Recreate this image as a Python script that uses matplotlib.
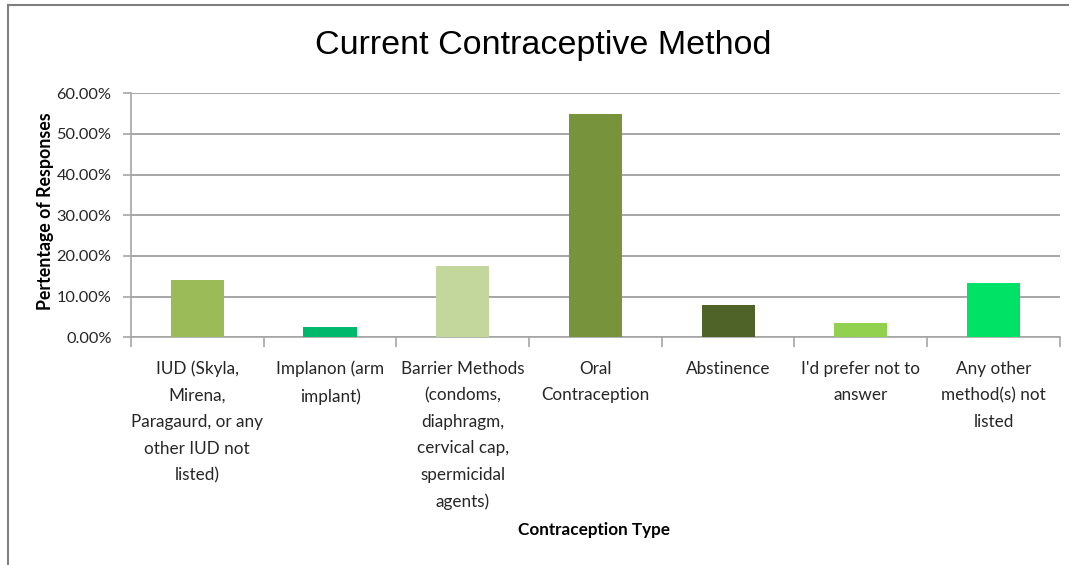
import matplotlib
matplotlib.use("Agg")
from matplotlib import pyplot as plt
from matplotlib.ticker import FixedLocator, PercentFormatter
import numpy as np

# categories and values
categories = [
    "IUD (Skyla,\nMirena,\nParagaurd, or any\nother IUD not\nlisted)",
    "Implanon (arm\nimplant)",
    "Barrier Methods\n(condoms,\ndiaphragm,\ncervical cap,\nspermicidal\nagents)",
    "Oral\nContraception",
    "Abstinence",
    "I'd prefer not to\nanswer",
    "Any other\nmethod(s) not\nlisted",
]
percentages = [14.1, 2.6, 17.6, 55.0, 8.0, 3.4, 13.3]
bar_colors = ["#9BBB59", "#00B86B", "#C3D69B", "#77933C", "#4F6228", "#92D050", "#00E266"]

label_font = ["Lato", "DejaVu Sans"]

fig = plt.figure(figsize=(10.69, 5.65), dpi=100)
ax = fig.add_axes([0.1225, 0.403, 0.869, 0.432])

x = np.arange(len(categories))
ax.bar(x, percentages, width=0.4, color=bar_colors, zorder=3)

ax.set_xlim(-0.5, len(categories) - 0.5)
ax.set_ylim(0, 60)
ax.set_yticks(np.arange(0, 61, 10))
ax.yaxis.set_major_formatter(PercentFormatter(decimals=2))
ax.grid(axis="y", color="#A6A6A6", linewidth=1.4, zorder=0)

# category labels centred, tick marks on the category boundaries
ax.set_xticks(x)
ax.set_xticklabels(categories, family=label_font, fontsize=12.3, color="#262626", linespacing=1.8, va="top")
ax.tick_params(axis="x", which="major", length=0, pad=17)
ax.xaxis.set_minor_locator(FixedLocator(np.arange(-0.5, len(categories), 1.0)))
ax.tick_params(axis="x", which="minor", length=7, color="#A6A6A6", width=1.2)
ax.tick_params(axis="y", length=6, color="#A6A6A6", width=1.2, pad=8)
for lbl in ax.get_yticklabels():
    lbl.set_family(label_font)
    lbl.set_fontsize(11.8)
    lbl.set_color("#262626")

for side in ["top", "right"]:
    ax.spines[side].set_visible(False)
for side in ["left", "bottom"]:
    ax.spines[side].set_color("#A6A6A6")
    ax.spines[side].set_linewidth(1.2)

fig.text(0.043, 0.627, "Pertentage of Responses", family=label_font, fontsize=12.8, fontweight="bold",
         rotation=90, ha="center", va="center")
fig.text(0.556, 0.062, "Contraception Type", family=label_font, fontsize=12.3, fontweight="bold",
         ha="center", va="center")

fig.text(0.508, 0.92, "Current Contraceptive Method",
         family=["Liberation Sans Narrow", "Liberation Sans", "DejaVu Sans"],
         fontsize=24.5, ha="center", va="center")

# outer chart frame
fig.add_artist(plt.Line2D([0.0075, 0.0075], [0.0, 0.992], transform=fig.transFigure, color="#808080", linewidth=1.5))
fig.add_artist(plt.Line2D([0.0075, 1.0], [0.992, 0.992], transform=fig.transFigure, color="#808080", linewidth=1.5))

fig.savefig("out.png", dpi=100)
